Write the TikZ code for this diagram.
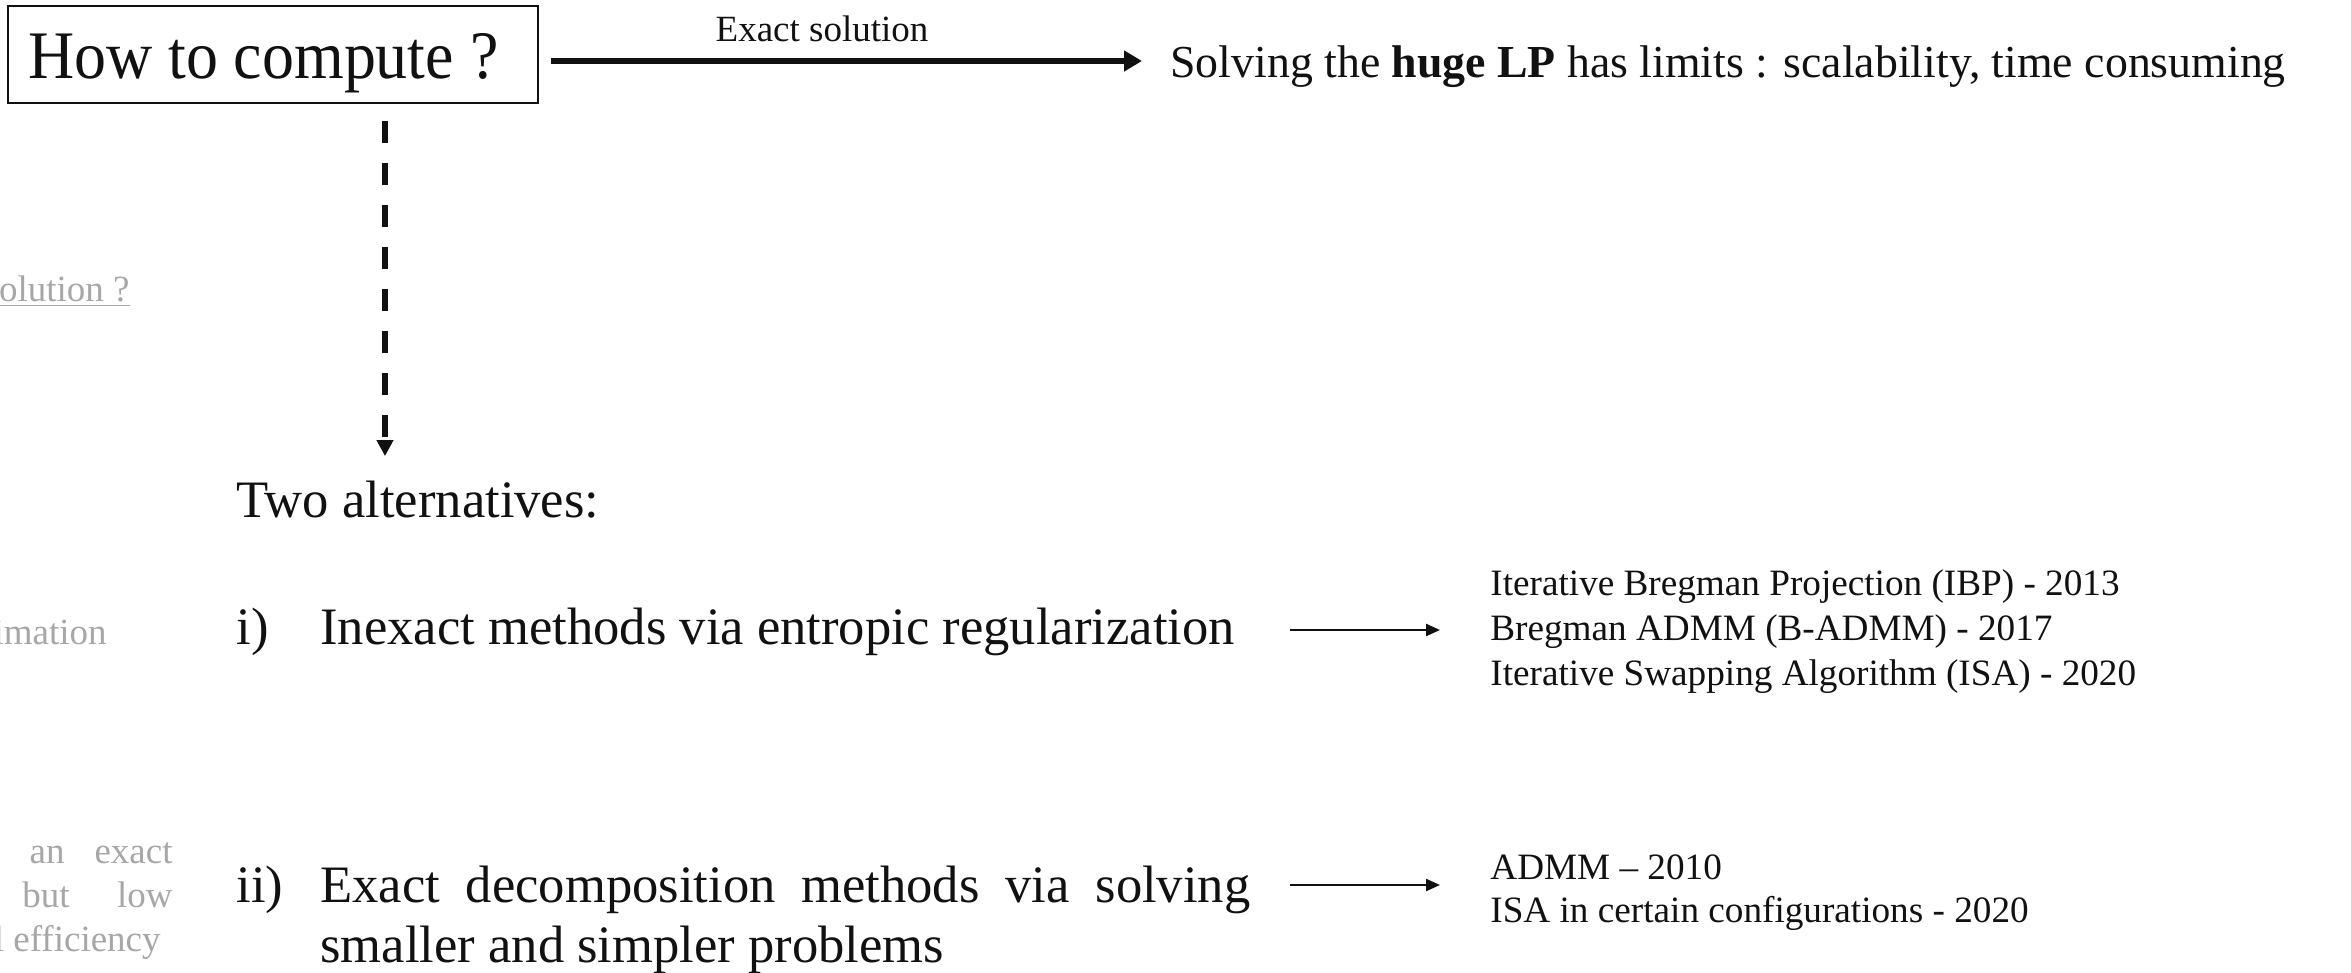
\documentclass[tikz,border=0pt]{standalone}
\usepackage{fontspec}
\setmainfont{Liberation Serif}
\usetikzlibrary{arrows.meta}
\definecolor{faded}{HTML}{A8A6A6}
\definecolor{ink}{HTML}{111111}
\newcommand{\fs}[1]{\fontsize{#1}{#1}\selectfont}
\begin{document}
\begin{tikzpicture}[x=0.5pt,y=-0.5pt,
  txt/.style={inner sep=0pt,text=ink},
  big/.style={txt,font=\fs{26.3pt}},
  small/.style={txt,font=\fs{18.6pt}},
  ghost/.style={inner sep=0pt,text=faded,font=\fs{18.5pt},anchor=base east},
  qbox/.style={draw=ink,line width=1pt,inner xsep=10pt,inner ysep=0pt,text=ink,
     text height=36.5pt,text depth=12pt},
  mainarrow/.style={draw=ink,line width=3pt,-{Triangle[length=9pt,width=10pt]}},
  dasharrow/.style={draw=ink,line width=2.6pt,dash pattern=on 11pt off 10pt,
     -{Triangle[length=8pt,width=8pt]}},
  listarrow/.style={draw=ink,line width=1.2pt,-{Triangle[length=7pt,width=6pt]}}]
\useasboundingbox (0,0) rectangle (2351,973);

% faded text on the left
\node[ghost] (g1) at (130,302) {\underline{olution ?}};
\node[ghost] (g2) at (107,644) {imation};
\node[ghost] (g3a) at (65,863) {an};
\node[ghost] (g3b) at (173,863) {exact};
\node[ghost] (g4a) at (70,907) {but};
\node[ghost] (g4b) at (173,907) {low};
\node[ghost] (g5) at (161,951) {l efficiency};

% question box
\node[qbox,anchor=north west] (q) at (7,5)
  {\makebox[245pt][l]{\scalebox{0.94}[1]{\fs{34pt}How to compute ?}}};

% exact solution branch
\node[txt,font=\fs{18.5pt},anchor=base] (ex) at (822,42) {Exact solution};
\node[txt,font=\fs{22.9pt},anchor=base west] (sol) at (1170,78)
  {Solving the \textbf{huge LP} has limits : scalability, time consuming};
\path (q.east) ++(12,6.5) coordinate (a0);
\draw[mainarrow,shorten >=14pt] (a0) -- (a0 -| sol.west);

% alternatives
\node[big,anchor=base west] (two) at (236,517) {Two alternatives:};
\path (q.south west) ++(378,17) coordinate (d0);
\draw[dasharrow,shorten >=12pt] (d0) -- (d0 |- two.north);

\node[big,anchor=base west] (i) at (236,644) {i)};
\node[big,anchor=base west] (it) at (320,644) {Inexact methods via entropic regularization};
\node[big,anchor=base west] (ii) at (236,902) {ii)};
\node[big,anchor=base west] (iit) at (320,902)
  {\makebox[465pt][s]{Exact decomposition methods via solving}};
\node[big,anchor=base west] (iit2) at (320,962) {smaller and simpler problems};

% lists
\node[small,anchor=base west] (l1a) at (1490,595) {Iterative Bregman Projection (IBP) - 2013};
\node[small,anchor=base west] (l1b) at (1490,640) {Bregman ADMM (B-ADMM) - 2017};
\node[small,anchor=base west] (l1c) at (1490,685) {Iterative Swapping Algorithm (ISA) - 2020};
\node[small,anchor=base west] (l2a) at (1490,879) {ADMM – 2010};
\node[small,anchor=base west] (l2b) at (1490,922) {ISA in certain configurations - 2020};

\coordinate (ia) at (1290,630);
\coordinate (ib) at (1290,885);
\draw[listarrow,shorten >=25pt] (ia) -- (ia -| l1b.west);
\draw[listarrow,shorten >=25pt] (ib) -- (ib -| l2a.west);
\end{tikzpicture}
\end{document}
